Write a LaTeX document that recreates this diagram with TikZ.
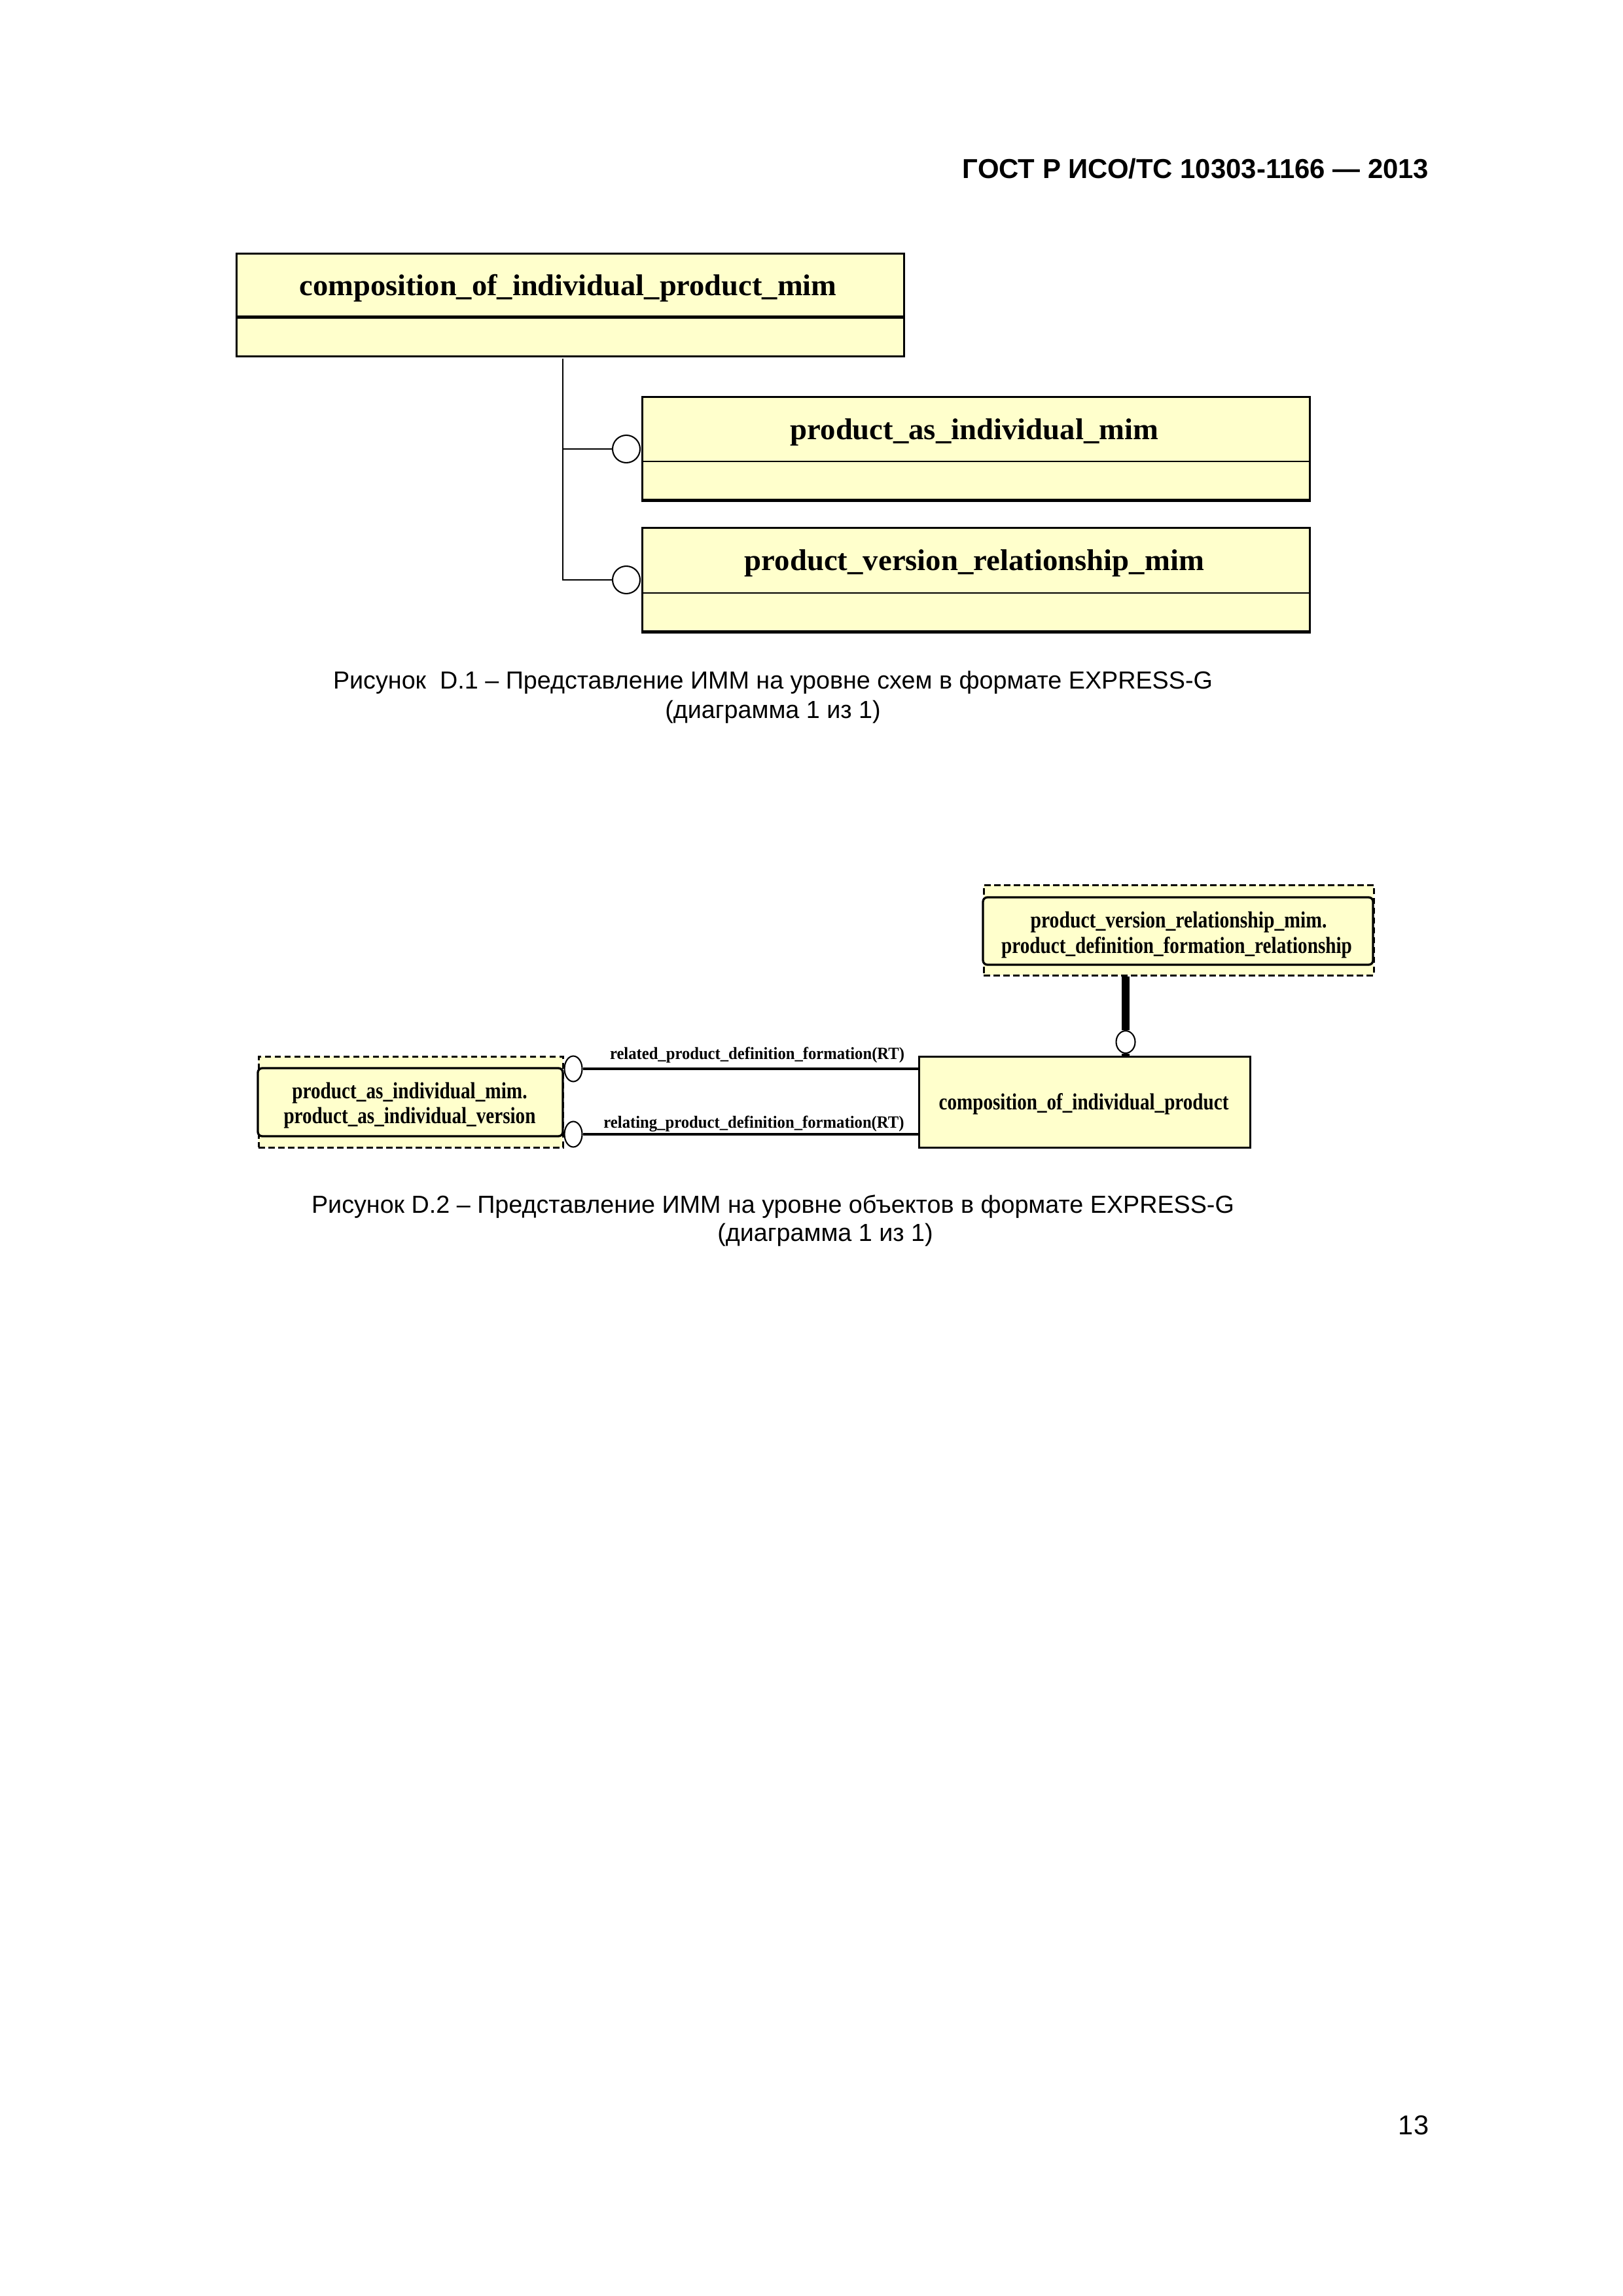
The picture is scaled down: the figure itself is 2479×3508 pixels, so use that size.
\documentclass[tikz,border=0pt]{standalone}
\usepackage{fontspec}
\setmainfont{Liberation Serif}
\newfontfamily\arialfont{Liberation Sans}
\usepackage{graphicx}
\usetikzlibrary{shapes.geometric}
\definecolor{boxfill}{RGB}{255,255,204}
\newcommand{\fitw}[2]{\resizebox{#1}{\height}{#2}}
\begin{document}
\begin{tikzpicture}[x=0.24pt,y=-0.24pt,
  ent/.style={draw=black, line width=0.65pt, fill=boxfill, inner sep=0pt, anchor=north west},
  dbox/.style={draw=black, line width=0.7pt, dash pattern=on 2.2pt off 1.4pt, fill=boxfill, inner sep=0pt, anchor=north west},
  bigtxt/.style={inner sep=0pt, font=\bfseries\fontsize{11}{13}\selectfont},
  midtxt/.style={inner sep=0pt, font=\bfseries\fontsize{8.5}{10}\selectfont},
  smalltxt/.style={inner sep=0pt, font=\bfseries\fontsize{6.3}{8}\selectfont},
  capt/.style={inner sep=0pt, anchor=base, font=\arialfont\fontsize{9.05}{11}\selectfont},
  ring/.style={circle, draw=black, line width=0.5pt, fill=white, inner sep=0pt, minimum size=42*0.24pt},
  oval/.style={ellipse, draw=black, line width=0.5pt, fill=white, inner sep=0pt, minimum width=27*0.24pt, minimum height=39*0.24pt},
  conn/.style={draw=black, line width=0.7pt}]
\useasboundingbox[fill=white] (0,0) rectangle (2479,3508);

% header
\node[inner sep=0pt, anchor=base east, font=\arialfont\bfseries\fontsize{10.05}{12}\selectfont] (hdr) at (2184,273) {ГОСТ Р ИСО/ТС 10303-1166 — 2013};

% ---------- Figure D.1 ----------
\node[ent, minimum width=1020*0.24pt, minimum height=157*0.24pt] (b1) at (360,386) {};
\draw[line width=1.2pt] (360,485) -- (1380,485);
\node[bigtxt] (b1t) at (868,440) {\fitw{197pt}{composition\_of\_individual\_product\_mim}};

\node[ent, minimum width=1020*0.24pt, minimum height=159*0.24pt] (b2) at (980,605) {};
\draw[line width=0.5pt] (980,705) -- (2000,705);
\draw[line width=1.1pt] (980,764) -- (2000,764);
\node[bigtxt] (b2t) at (1489,660) {\fitw{135pt}{product\_as\_individual\_mim}};

\node[ent, minimum width=1020*0.24pt, minimum height=160*0.24pt] (b3) at (980,805) {};
\draw[line width=0.5pt] (980,906) -- (2000,906);
\draw[line width=1.1pt] (980,965) -- (2000,965);
\node[bigtxt] (b3t) at (1489,860) {\fitw{168.5pt}{product\_version\_relationship\_mim}};

\node[ring] (r2) at (957,686) {};
\node[ring] (r3) at (957,886) {};
\coordinate (v0) at (860,548);
\draw[conn] (v0) |- (r3.west);
\draw[conn] (v0 |- r2.west) -- (r2.west);

\node[capt] (cap1a) at (1181,1052) {Рисунок~~D.1 – Представление ИММ на уровне схем в формате EXPRESS-G};
\node[capt] (cap1b) at (1181,1097) {(диаграмма 1 из 1)};

% ---------- Figure D.2 ----------
\node[dbox, minimum width=596*0.24pt, minimum height=138*0.24pt] (T) at (1502,1351) {};
\draw[line width=0.8pt, fill=boxfill, rounded corners=1.6pt] (1502,1371) rectangle (2098,1474);
\node[midtxt] (Tt1) at (1801,1409) {\fitw{108.7pt}{product\_version\_relationship\_mim.}};
\node[midtxt] (Tt2) at (1798,1448) {\fitw{128.6pt}{product\_definition\_formation\_relationship}};

\node[ent, minimum width=506*0.24pt, minimum height=139*0.24pt] (C) at (1403,1613) {};
\node[midtxt] (Ct) at (1656,1687) {\fitw{106.3pt}{composition\_of\_individual\_product}};

\node[dbox, minimum width=465*0.24pt, minimum height=139*0.24pt] (L) at (394,1613) {};
\draw[line width=0.8pt, fill=boxfill, rounded corners=1.6pt] (394,1632) rectangle (860,1736);
\node[midtxt] (Lt1) at (626,1670) {\fitw{86.2pt}{product\_as\_individual\_mim.}};
\node[midtxt] (Lt2) at (626,1708) {\fitw{92.4pt}{product\_as\_individual\_version}};

\node[oval, minimum width=29*0.24pt, minimum height=34*0.24pt] (cT) at (1720,1592) {};
\draw[line width=2.8pt] (cT.north |- T.south) -- (cT.north);
\draw[line width=2.8pt] (cT.south) -- (cT.south |- C.north);

\node[oval] (cL1) at (876,1633) {};
\node[oval] (cL2) at (876,1733) {};
\draw[line width=0.8pt] (cL1.east) -- (cL1.east -| C.west);
\draw[line width=0.8pt] (cL2.east) -- (cL2.east -| C.west);

\node[smalltxt] (lab1) at (1157,1612) {\fitw{108pt}{related\_product\_definition\_formation(RT)}};
\node[smalltxt] (lab2) at (1152,1717) {\fitw{110.2pt}{relating\_product\_definition\_formation(RT)}};

\node[capt] (cap2a) at (1181,1853) {Рисунок D.2 – Представление ИММ на уровне объектов в формате EXPRESS-G};
\node[capt] (cap2b) at (1261,1896) {(диаграмма 1 из 1)};

% page number
\node[inner sep=0pt, anchor=base east, font=\arialfont\fontsize{10}{12}\selectfont] (pg) at (2184,3261) {13};
\end{tikzpicture}
\end{document}
